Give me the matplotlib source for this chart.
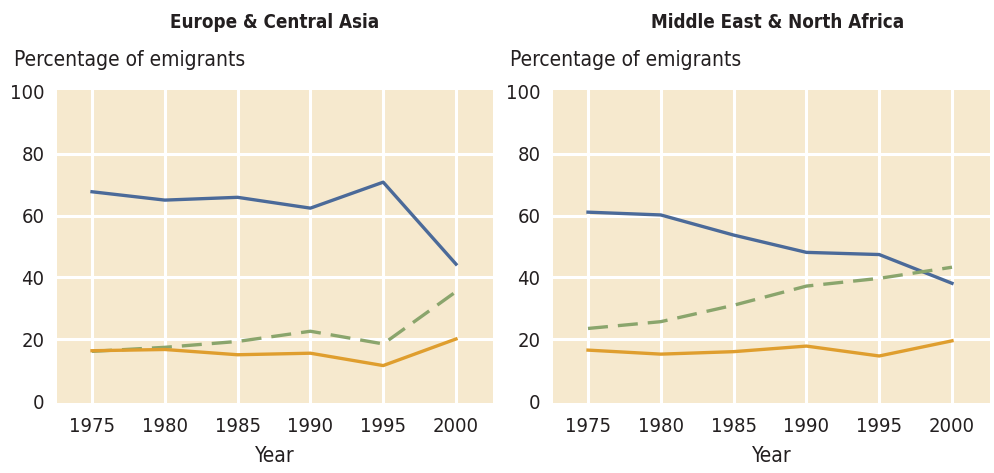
import matplotlib
matplotlib.use("Agg")
import matplotlib.pyplot as plt

years = [1975, 1980, 1985, 1990, 1995, 2000]
yticks = [0, 20, 40, 60, 80, 100]

titles = ["Europe & Central Asia", "Middle East & North Africa"]

eca_blue = [67.7, 65.0, 65.9, 62.4, 70.8, 44.3]
eca_green = [16.1, 17.4, 19.3, 22.6, 18.5, 35.4]
eca_orange = [16.3, 16.7, 15.0, 15.5, 11.5, 20.1]

mena_blue = [61.1, 60.2, 53.7, 48.1, 47.4, 38.1]
mena_green = [23.5, 25.7, 31.0, 37.2, 39.7, 43.3]
mena_orange = [16.5, 15.2, 16.0, 17.8, 14.6, 19.5]

plt.rcParams["font.family"] = ["DejaVu Sans"]
STRETCH = "condensed"

BG = "#F6E9CE"
BLUE = "#4B6A99"
GREEN = "#8AA56C"
ORANGE = "#DF9E2E"
TXT = "#231F20"

fig = plt.figure(figsize=(9.94, 4.73), dpi=100)
W, H = 994, 473

panels = [
    (57, 493, 275, titles[0], eca_blue, eca_green, eca_orange),
    (553, 990, 778, titles[1], mena_blue, mena_green, mena_orange),
]

for left, right, tcx, title, b, g, o in panels:
    top, bottom = 90, 403
    ax = fig.add_axes([left / W, 1 - bottom / H, (right - left) / W, (bottom - top) / H])
    ax.set_facecolor(BG)
    px_per_year = 14.56
    first_px = left + 35
    ax.set_xlim(1975 - (first_px - left) / px_per_year, 1975 + (right - first_px) / px_per_year)
    ax.set_ylim(-0.6, 100.6)
    for yr in years:
        ax.axvline(yr, color="white", lw=2.2, zorder=1)
    for yv in yticks[1:-1]:
        ax.axhline(yv, color="white", lw=2.2, zorder=1)
    ax.plot(years, b, color=BLUE, lw=2.4, zorder=3)
    ax.plot(years, g, color=GREEN, lw=2.4, zorder=3, dashes=(6, 3))
    ax.plot(years, o, color=ORANGE, lw=2.4, zorder=3)
    for s in ax.spines.values():
        s.set_visible(False)
    ax.set_xticks(years)
    ax.set_xticklabels([str(y) for y in years], fontsize=14.5, color=TXT, fontstretch=STRETCH)
    ax.set_yticks(yticks)
    ax.set_yticklabels([str(y) for y in yticks], fontsize=14.5, color=TXT, fontstretch=STRETCH)
    ax.tick_params(axis="x", length=0, pad=10)
    ax.tick_params(axis="y", length=0, pad=9)
    ax.set_xlabel("Year", fontsize=15, color=TXT, labelpad=7, fontstretch=STRETCH)
    fig.text(tcx / W, 1 - 22 / H, title, ha="center", va="center",
             fontsize=13.5, fontweight="bold", color=TXT, fontstretch=STRETCH)
    fig.text((left - 43) / W, 1 - 60 / H, "Percentage of emigrants", ha="left", va="center",
             fontsize=15, color=TXT, fontstretch=STRETCH)

fig.savefig("out.png", dpi=100, facecolor="white")
